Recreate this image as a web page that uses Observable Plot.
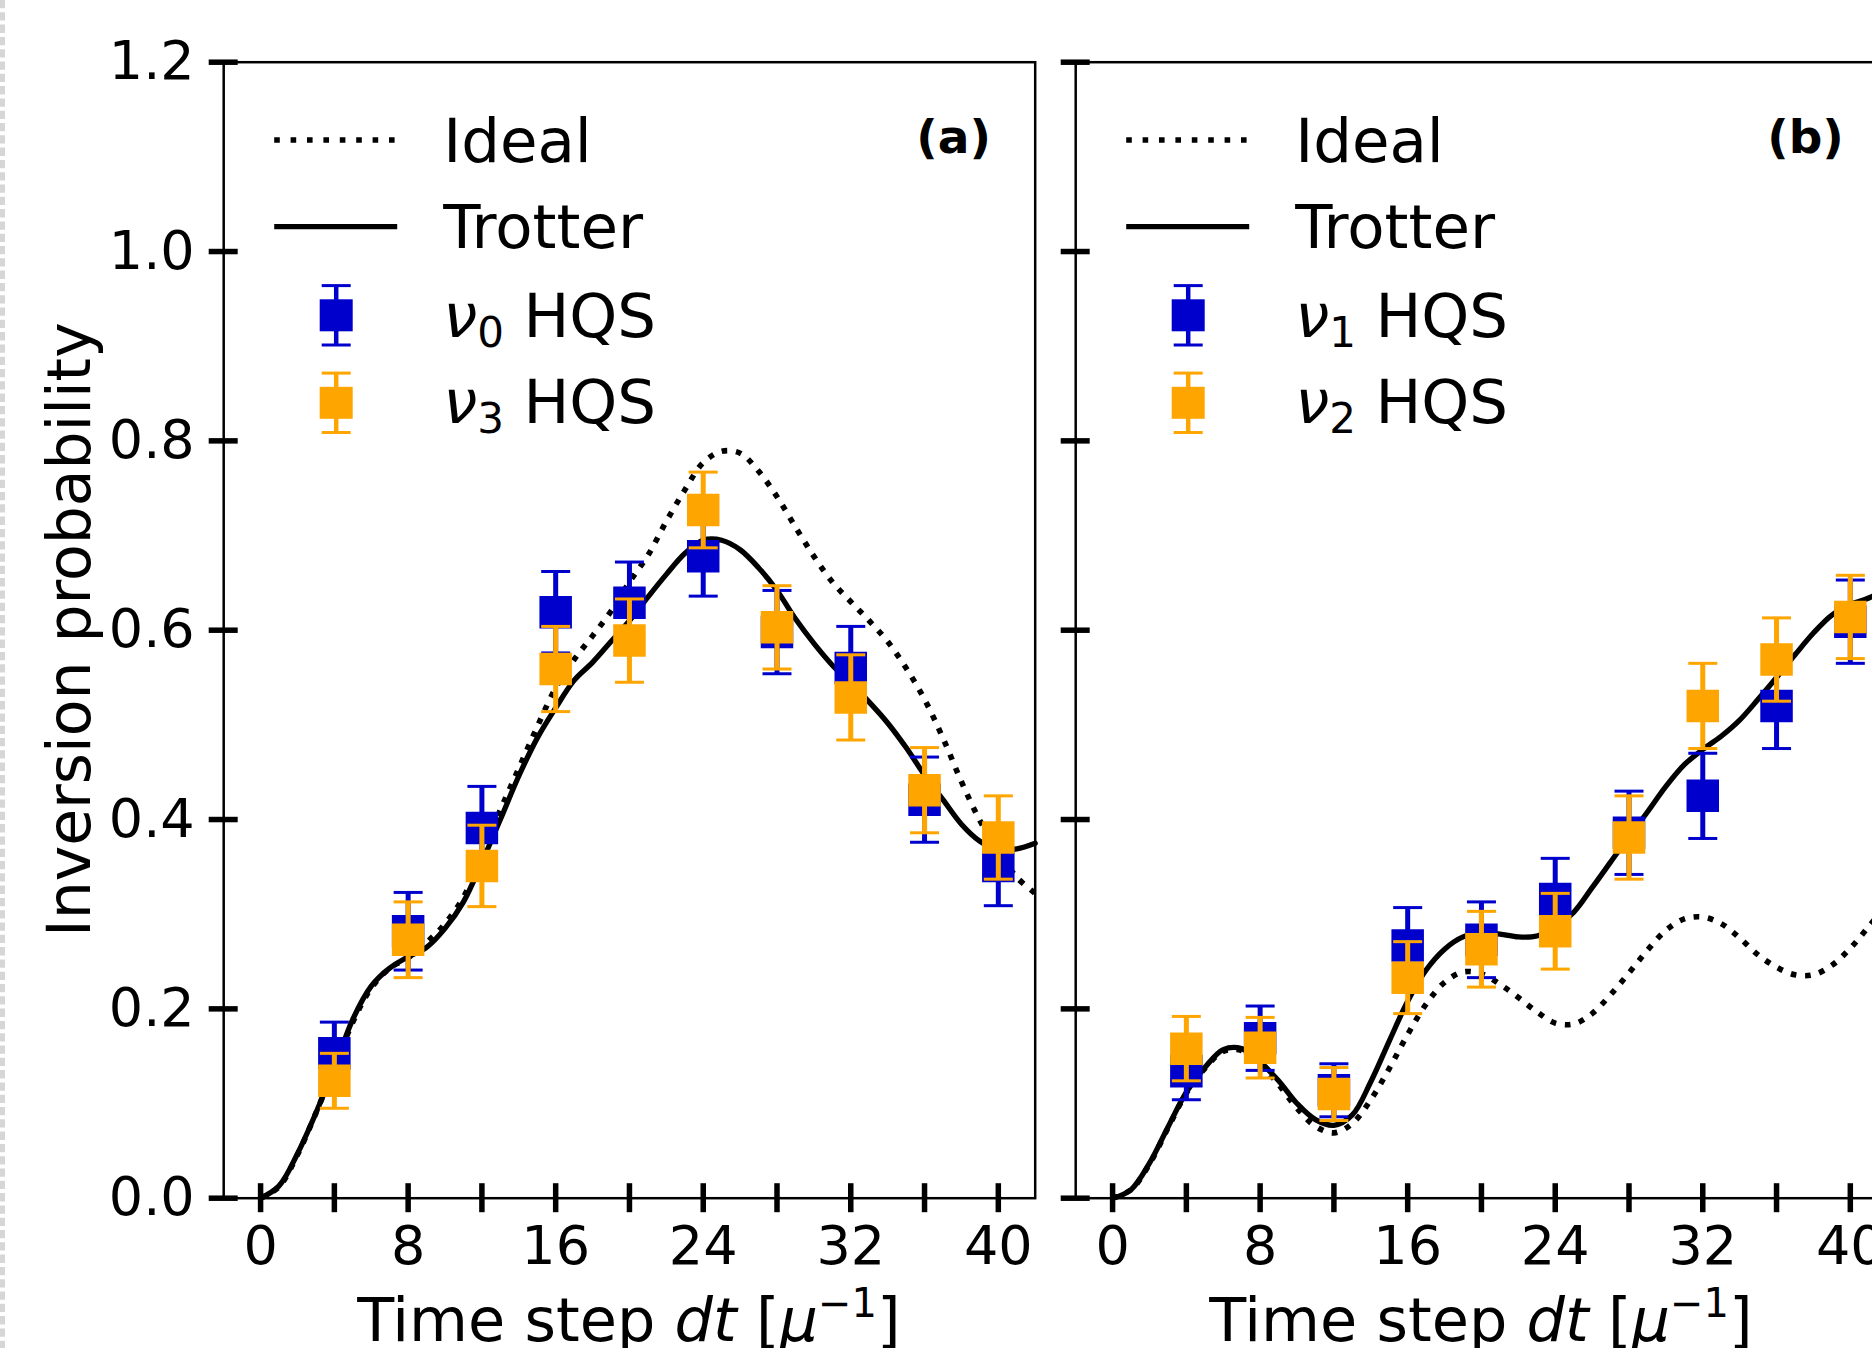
<!DOCTYPE html>
<html>
<head>
<meta charset="utf-8">
<script src="https://cdn.jsdelivr.net/npm/d3@7"></script>
<script src="https://cdn.jsdelivr.net/npm/@observablehq/plot@0.6"></script>
<style>
html, body { margin: 0; padding: 0; background: #fff; width: 1872px; height: 1348px; overflow: hidden; }
#wrap { position: relative; width: 1872px; height: 1348px; overflow: hidden; }
#wrap svg { position: absolute; top: 0; }
</style>
</head>
<body>
<div id="wrap"></div>
<script>
// ---------- data ----------
const tSteps = [4, 8, 12, 16, 20, 24, 28, 32, 36, 40];

// panel (a)
const nu0    = [0.153, 0.282, 0.391, 0.619, 0.629, 0.678, 0.598, 0.560, 0.421, 0.351];
const nu0Err = [0.033, 0.041, 0.044, 0.043, 0.043, 0.042, 0.044, 0.044, 0.045, 0.042];
const nu3    = [0.124, 0.273, 0.351, 0.559, 0.589, 0.727, 0.603, 0.529, 0.431, 0.381];
const nu3Err = [0.029, 0.040, 0.043, 0.045, 0.044, 0.040, 0.044, 0.045, 0.045, 0.044];

// panel (b)
const nu1    = [0.134, 0.169, 0.114, 0.267, 0.273, 0.316, 0.386, 0.425, 0.520, 0.609];
const nu1Err = [0.030, 0.034, 0.028, 0.040, 0.040, 0.043, 0.044, 0.045, 0.045, 0.044];
const nu2    = [0.158, 0.159, 0.110, 0.233, 0.263, 0.282, 0.381, 0.520, 0.569, 0.614];
const nu2Err = [0.034, 0.032, 0.028, 0.038, 0.040, 0.040, 0.044, 0.045, 0.044, 0.044];

// continuous curves, sampled at t = 0..42
const curveT = d3.range(0, 43);
const idealA = [0.000,0.012,0.046,0.090,0.138,0.186,0.222,0.243,0.254,0.270,
                0.290,0.318,0.362,0.410,0.454,0.498,0.539,0.569,0.594,0.620,
                0.651,0.679,0.715,0.748,0.777,0.789,0.787,0.768,0.741,0.709,
                0.678,0.651,0.630,0.610,0.588,0.560,0.527,0.486,0.440,0.399,
                0.366,0.339,0.322];
const trotterA = [0.000,0.013,0.047,0.090,0.138,0.189,0.224,0.243,0.255,0.265,
                  0.285,0.313,0.355,0.400,0.446,0.486,0.518,0.547,0.566,0.588,
                  0.610,0.635,0.659,0.681,0.695,0.695,0.685,0.666,0.642,0.612,
                  0.586,0.563,0.544,0.524,0.502,0.476,0.447,0.421,0.395,0.377,
                  0.368,0.369,0.375];
const idealB = [0.000,0.009,0.036,0.074,0.111,0.137,0.155,0.156,0.142,0.120,
                0.095,0.076,0.069,0.079,0.104,0.137,0.173,0.205,0.228,0.239,
                0.237,0.226,0.212,0.197,0.185,0.184,0.195,0.215,0.238,0.262,
                0.283,0.295,0.297,0.290,0.275,0.257,0.244,0.236,0.236,0.246,
                0.264,0.287,0.310];
const trotterB = [0.000,0.009,0.037,0.075,0.112,0.138,0.157,0.158,0.144,0.124,
                  0.100,0.083,0.077,0.088,0.123,0.166,0.208,0.241,0.263,0.276,
                  0.280,0.279,0.276,0.277,0.287,0.302,0.328,0.355,0.382,0.408,
                  0.435,0.458,0.474,0.488,0.505,0.527,0.550,0.574,0.597,0.616,
                  0.627,0.634,0.645];

const yTicks = [0, 0.2, 0.4, 0.6, 0.8, 1.0, 1.2];
const xTicks = [0, 4, 8, 12, 16, 20, 24, 28, 32, 36, 40];
const xTickLabels = [0, 8, 16, 24, 32, 40];
const xDomain = [-2, 42];
const yDomain = [0, 1.2];

// ---------- style ----------
const FONT = "DejaVu Sans";
const BLUE = "#0000cd";
const ORANGE = "#ffa500";
const H = 1348, MT = 61.7, MB = 150.3, FRAME_W = 811.5;
const LW = 5.3;
const TICK_FS = 54, LABEL_FS = 60.5, LEGEND_FS = 61;

const capSymbol = { draw(ctx) { ctx.moveTo(-14.5, 0); ctx.lineTo(14.5, 0); } };
const squareSymbol = { draw(ctx) { ctx.rect(-16.25, -16.25, 32.5, 32.5); } };

function errMarks(data, color) {
  return [
    Plot.ruleX(data, {x: "t", y1: d => d.v - d.e, y2: d => d.v + d.e, stroke: color, strokeWidth: 5}),
    Plot.dot(data, {x: "t", y: d => d.v + d.e, symbol: capSymbol, stroke: color, strokeWidth: 3, fill: "none"}),
    Plot.dot(data, {x: "t", y: d => d.v - d.e, symbol: capSymbol, stroke: color, strokeWidth: 3, fill: "none"}),
    Plot.dot(data, {x: "t", y: "v", symbol: squareSymbol, fill: color, stroke: "none"})
  ];
}

function makePanel(o) {
  const ideal = curveT.map((t, i) => ({t, v: o.ideal[i]}));
  const trotter = curveT.map((t, i) => ({t, v: o.trotter[i]}));
  const blue = tSteps.map((t, i) => ({t, v: o.blue[i], e: o.blueErr[i]}));
  const orange = tSteps.map((t, i) => ({t, v: o.orange[i], e: o.orangeErr[i]}));
  const marks = [
    Plot.line(ideal, {x: "t", y: "v", stroke: "black", strokeWidth: 5.6, strokeDasharray: "5.6,8.8",
      strokeLinecap: "butt", curve: "catmull-rom"}),
    Plot.line(trotter, {x: "t", y: "v", stroke: "black", strokeWidth: LW, curve: "catmull-rom"}),
    ...errMarks(blue, BLUE),
    ...errMarks(orange, ORANGE),
    Plot.frame({stroke: "black", strokeWidth: 2.5}),
    // tick marks only (straddling the spines)
    Plot.axisY(yTicks, {anchor: "left", tickSize: 29, dx: 14.5, strokeWidth: 5.5, stroke: "black", fill: "none", label: null}),
    Plot.axisX(xTicks, {anchor: "bottom", tickSize: 29, dy: -14.5, strokeWidth: 5.5, stroke: "black", fill: "none", label: null}),
    // tick labels only
    Plot.axisX(xTickLabels, {anchor: "bottom", tickSize: 0, tickPadding: 27.5, fontSize: TICK_FS, fill: "black", label: null})
  ];
  if (o.yLabels) {
    marks.push(Plot.axisY(yTicks, {anchor: "left", tickSize: 0, tickPadding: 29,
      tickFormat: d3.format(".1f"), fontSize: TICK_FS, fill: "black", label: null}));
  }
  const chart = Plot.plot({
    width: o.width, height: H,
    marginLeft: o.marginLeft, marginRight: o.width - o.marginLeft - FRAME_W,
    marginTop: MT, marginBottom: MB,
    x: {domain: xDomain, label: null},
    y: {domain: yDomain, label: null},
    style: {background: "transparent", overflow: "visible", fontFamily: FONT, color: "black", maxWidth: "none"},
    marks
  });
  chart.style.left = o.left + "px";
  document.getElementById("wrap").appendChild(chart);

  const svg = d3.select(chart);
  const fx = o.marginLeft, fy = MT;
  const cx = fx + FRAME_W / 2;

  // x axis label
  const xl = svg.append("text").attr("x", cx).attr("y", 1341)
    .attr("text-anchor", "middle").attr("font-family", FONT).attr("font-size", LABEL_FS).attr("fill", "black");
  xl.append("tspan").text("Time step ");
  xl.append("tspan").attr("font-style", "italic").text("dt");
  xl.append("tspan").text(" [");
  xl.append("tspan").attr("font-style", "italic").text("μ");
  xl.append("tspan").attr("font-size", 40).attr("dy", -24).text("−1");
  xl.append("tspan").attr("dy", 24).text("]");

  // panel label
  svg.append("text").attr("x", fx + 0.9 * FRAME_W).attr("y", 153)
    .attr("text-anchor", "middle").attr("font-family", FONT).attr("font-weight", "bold")
    .attr("font-size", 47).attr("fill", "black").text(o.panelLabel);

  // legend
  const g = svg.append("g").attr("transform", `translate(${fx},${fy})`).attr("text-anchor", "start");
  g.append("line").attr("x1", 51).attr("x2", 174).attr("y1", 78.3).attr("y2", 78.3)
    .attr("stroke", "black").attr("stroke-width", 5.6).attr("stroke-dasharray", "5.6,10.8");
  g.append("line").attr("x1", 51).attr("x2", 174).attr("y1", 165).attr("y2", 165)
    .attr("stroke", "black").attr("stroke-width", LW);
  const legMarker = (cy, color) => {
    g.append("line").attr("x1", 113).attr("x2", 113).attr("y1", cy - 29.7).attr("y2", cy + 29.7)
      .attr("stroke", color).attr("stroke-width", 4.5);
    [cy - 29.7, cy + 29.7].forEach(y => g.append("line").attr("x1", 98.5).attr("x2", 127.5)
      .attr("y1", y).attr("y2", y).attr("stroke", color).attr("stroke-width", 3));
    g.append("rect").attr("x", 113 - 16.5).attr("y", cy - 16).attr("width", 33).attr("height", 32).attr("fill", color);
  };
  legMarker(253.6, BLUE);
  legMarker(341.1, ORANGE);
  const legText = (y) => g.append("text").attr("x", 220).attr("y", y).attr("text-anchor", "start")
    .attr("font-family", FONT).attr("font-size", LEGEND_FS).attr("fill", "black");
  legText(100).text("Ideal");
  legText(186.6).text("Trotter");
  [[275, o.blueSub], [361.6, o.orangeSub]].forEach(([y, sub]) => {
    const t = legText(y);
    t.append("tspan").attr("font-style", "italic").text("ν");
    t.append("tspan").attr("font-size", 42).attr("dy", 10).text(sub);
    t.append("tspan").attr("dy", -10).text(" HQS");
  });

  return svg;
}

const svgA = makePanel({
  left: 0, width: 1060, marginLeft: 223.2,
  ideal: idealA, trotter: trotterA,
  blue: nu0, blueErr: nu0Err, orange: nu3, orangeErr: nu3Err,
  blueSub: "0", orangeSub: "3", panelLabel: "(a)", yLabels: true
});
makePanel({
  left: 1040, width: 900, marginLeft: 35.2,
  ideal: idealB, trotter: trotterB,
  blue: nu1, blueErr: nu1Err, orange: nu2, orangeErr: nu2Err,
  blueSub: "1", orangeSub: "2", panelLabel: "(b)", yLabels: false
});

// y axis label
svgA.append("text")
  .attr("transform", `translate(90, ${MT + (H - MT - MB) / 2}) rotate(-90)`)
  .attr("text-anchor", "middle").attr("font-family", FONT).attr("font-size", 60).attr("fill", "black")
  .text("Inversion probability");

// light dashed border on the left edge
const edge = d3.select("#wrap").append("svg")
  .attr("width", 8).attr("height", H).style("left", "0px");
edge.append("line").attr("x1", 2.5).attr("x2", 2.5).attr("y1", 0).attr("y2", H)
  .attr("stroke", "#d6d6d6").attr("stroke-width", 5).attr("stroke-dasharray", "8.3,4");
</script>
</body>
</html>
